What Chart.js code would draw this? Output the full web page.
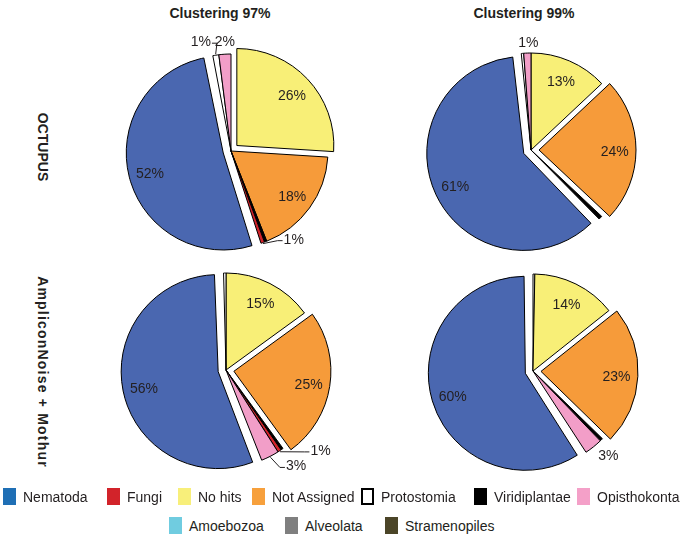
<!DOCTYPE html>
<html>
<head>
<meta charset="utf-8">
<script src="https://cdn.jsdelivr.net/npm/chart.js@4/dist/chart.umd.min.js"></script>
<style>
  html, body { margin: 0; padding: 0; background: #fff; }
  body { width: 683px; height: 541px; position: relative; overflow: hidden;
         font-family: "Liberation Sans", Arial, sans-serif; color: #231f20; }
  .pie { position: absolute; width: 280px; height: 240px; }
  .col-title { position: absolute; top: 5px; font-weight: bold; font-size: 14px;
               transform: translateX(-50%); white-space: nowrap; }
  .row-title { position: absolute; font-weight: bold; font-size: 14px; white-space: nowrap;
               transform: translate(-50%, -50%) rotate(90deg); }
  .leg { position: absolute; display: flex; align-items: center; font-size: 14px; white-space: nowrap; }
  .leg i { display: inline-block; width: 13px; height: 17px; margin-right: 7px; box-sizing: border-box; }
</style>
</head>
<body>
<div class="col-title" style="left:220px">Clustering 97%</div>
<div class="col-title" style="left:524px">Clustering 99%</div>
<div class="row-title" style="left:43px;top:147px">OCTUPUS</div>
<div class="row-title" style="left:43px;top:372px;letter-spacing:1.2px">AmpliconNoise + Mothur</div>

<div class="pie" style="left:91px;top:31px"><canvas id="pie-oct97" width="280" height="240"></canvas></div>
<div class="pie" style="left:391px;top:30px"><canvas id="pie-oct99" width="280" height="240"></canvas></div>
<div class="pie" style="left:86px;top:250px"><canvas id="pie-amp97" width="280" height="240"></canvas></div>
<div class="pie" style="left:393px;top:251px"><canvas id="pie-amp99" width="280" height="240"></canvas></div>

<div id="legend"></div>

<script>
// catégories (ordre de la légende)
const categories = ['Nematoda', 'Fungi', 'No hits', 'Not Assigned', 'Protostomia',
  'Viridiplantae', 'Opisthokonta', 'Amoebozoa', 'Alveolata', 'Stramenopiles'];
const sliceColors  = ['#4a67b0', '#d2232a', '#f8ef77', '#f69b3a', '#ffffff',
  '#000000', '#f29ec8', '#70cce0', '#808080', '#4b4528'];
const legendColors = ['#1f6fb5', '#d2232a', '#f8ef7a', '#f7a03c', '#ffffff',
  '#000000', '#f4a0c8', '#70cce0', '#7f7f7f', '#4b4528'];

// tranches dans le sens horaire depuis midi (index dans categories)
const oct97Cats   = [2, 3, 5, 1, 0, 4, 6];
const oct97Vals   = [26, 18, 0.4, 0.6, 52, 1, 2];
const oct97Labels = ['26%', '18%', '', '1%', '52%', '1%', '2%'];

const oct99Cats   = [2, 3, 5, 0, 4, 6];
const oct99Vals   = [13, 24, 0.6, 60.8, 0.4, 1.2];
const oct99Labels = ['13%', '24%', '', '61%', '', '1%'];

const amp97Cats   = [2, 3, 5, 1, 6, 0, 4];
const amp97Vals   = [15, 25, 0.4, 0.6, 3, 55.6, 0.4];
const amp97Labels = ['15%', '25%', '', '1%', '3%', '56%', ''];

const amp99Cats   = [4, 2, 3, 5, 6, 0];
const amp99Vals   = [0.3, 14, 23, 0.5, 3, 59.2];
const amp99Labels = ['', '14%', '23%', '', '3%', '60%'];

// mise en page : tranches détachées, étiquettes extérieures [dx, dy, trait]
const EXPLODE = 32; // Chart.js divise offset par 4 -> 8px
const pies = [
  { id: 'pie-oct97', cats: oct97Cats, vals: oct97Vals, labels: oct97Labels, explode: [0, 4],
    callouts: { 5: [-15, -13, true], 6: [0, -12, false], 3: [31, -3, true] } },
  { id: 'pie-oct99', cats: oct99Cats, vals: oct99Vals, labels: oct99Labels, explode: [1, 3],
    callouts: { 5: [1, -10, false] } },
  { id: 'pie-amp97', cats: amp97Cats, vals: amp97Vals, labels: amp97Labels, explode: [1, 5],
    callouts: { 3: [41, 0, true], 4: [26, 10, true] } },
  { id: 'pie-amp99', cats: amp99Cats, vals: amp99Vals, labels: amp99Labels, explode: [2, 5],
    callouts: { 4: [15, 9, false] } },
];

const legendPos = [[0, 3], [0, 107], [0, 178], [0, 252], [0, 361], [0, 474], [0, 577],
  [1, 169], [1, 285], [1, 385]];
const legendRowY = [488, 517];

// étiquettes des tranches
const sliceLabels = {
  id: 'sliceLabels',
  beforeDatasetsDraw(chart) {
    // une tranche > 180° détachée est agrandie par Chart.js : on la garde au rayon du camembert
    const meta = chart.getDatasetMeta(0);
    const R = meta.controller.outerRadius;
    meta.data.forEach(arc => {
      const off = (arc.options.offset || 0) / 4;
      const circ = arc.endAngle - arc.startAngle;
      const fix = 1 - Math.sin(Math.min(Math.PI, circ));
      arc.outerRadius = R - off * fix;
    });
  },
  afterDatasetsDraw(chart, args, opts) {
    const ctx = chart.ctx;
    const meta = chart.getDatasetMeta(0);
    const R = meta.controller.outerRadius;
    const at = (arc, r) => {
      const m = (arc.startAngle + arc.endAngle) / 2;
      const t = (arc.options.offset || 0) / 4;
      return { x: arc.x + Math.cos(m) * (r + t), y: arc.y + Math.sin(m) * (r + t) };
    };
    ctx.save();
    ctx.font = '14px "Liberation Sans", Arial, sans-serif';
    ctx.fillStyle = '#231f20';
    ctx.strokeStyle = '#231f20';
    ctx.lineWidth = 1;
    ctx.textAlign = 'center';
    ctx.textBaseline = 'middle';
    meta.data.forEach((arc, i) => {
      const txt = opts.labels[i];
      if (!txt) return;
      const c = opts.callouts[i];
      if (!c) {
        const p = at(arc, R * 0.78);
        ctx.fillText(txt, p.x, p.y + 2);
        return;
      }
      const e = at(arc, R);
      const lx = e.x + c[0], ly = e.y + c[1];
      ctx.fillText(txt, lx, ly);
      if (c[2]) {
        const w = ctx.measureText(txt).width;
        const side = c[0] > 0 ? -1 : 1;
        const endX = lx + side * (w / 2 + 1);
        const s = at(arc, R + 1);
        ctx.beginPath();
        ctx.moveTo(s.x, s.y);
        ctx.lineTo(endX + side * 5, ly + 1);
        ctx.lineTo(endX, ly + 1);
        ctx.stroke();
      }
    });
    ctx.restore();
  }
};

pies.forEach(p => {
  new Chart(document.getElementById(p.id), {
    type: 'pie',
    data: {
      labels: p.cats.map(c => categories[c]),
      datasets: [{
        data: p.vals,
        backgroundColor: p.cats.map(c => sliceColors[c]),
        borderColor: '#000',
        borderWidth: 1,
        offset: p.vals.map((v, i) => p.explode.includes(i) ? EXPLODE : 0),
        radius: 97,
      }],
    },
    options: {
      responsive: false, animation: false, events: [],
      radius: 97,
      layout: { padding: 0 },
      plugins: {
        legend: { display: false },
        tooltip: { enabled: false },
        sliceLabels: { labels: p.labels, callouts: p.callouts },
      },
    },
    plugins: [sliceLabels],
  });
});

// légende
const legend = document.getElementById('legend');
categories.forEach((name, i) => {
  const [row, left] = legendPos[i];
  const el = document.createElement('div');
  el.className = 'leg';
  el.style.left = left + 'px';
  el.style.top = legendRowY[row] + 'px';
  const border = name === 'Protostomia' ? 'border:2.5px solid #000;' : '';
  el.innerHTML = `<i style="background:${legendColors[i]};${border}"></i>${name}`;
  legend.appendChild(el);
});
</script>
</body>
</html>
